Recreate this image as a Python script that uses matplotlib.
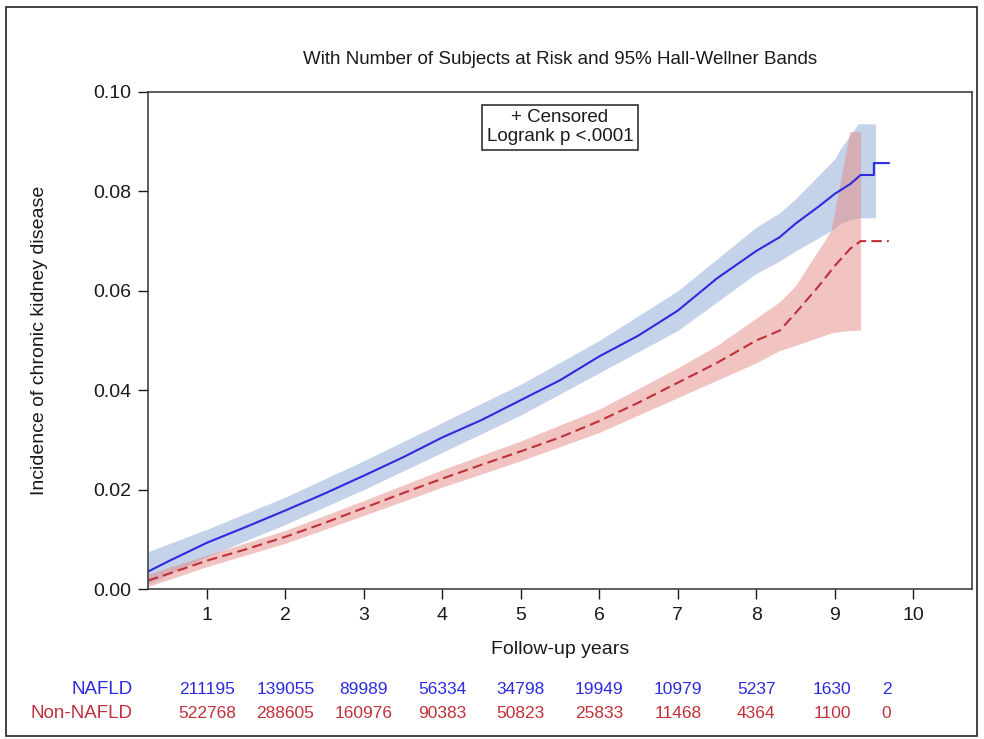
import matplotlib
matplotlib.use("Agg")
import matplotlib.pyplot as plt
from matplotlib.patches import Rectangle
from matplotlib.transforms import blended_transform_factory

plt.rcParams['font.family'] = ['Liberation Sans', 'DejaVu Sans']

# cumulative incidence
t_nafld = [0.25, 0.5, 1.0, 1.5, 2.0, 2.5, 3.0, 3.5, 4.0, 4.5, 5.0, 5.5, 6.0, 6.5, 7.0,
           7.5, 8.0, 8.3, 8.5, 8.8, 9.0, 9.2, 9.33, 9.5, 9.5, 9.69]
y_nafld = [0.0035, 0.0055, 0.0093, 0.0125, 0.0158, 0.0192, 0.0228, 0.0265, 0.0305, 0.0340,
           0.0380, 0.0420, 0.0468, 0.0510, 0.0560, 0.0625, 0.0680, 0.0708, 0.0735, 0.0770,
           0.0795, 0.0815, 0.0833, 0.0833, 0.0857, 0.0857]

t_non = [0.25, 0.5, 1.0, 1.5, 2.0, 2.5, 3.0, 3.5, 4.0, 4.5, 5.0, 5.5, 6.0, 6.5, 7.0,
         7.5, 8.0, 8.3, 8.5, 8.8, 9.0, 9.2, 9.33, 9.69]
y_non = [0.0017, 0.0030, 0.0057, 0.0080, 0.0105, 0.0133, 0.0163, 0.0193, 0.0222, 0.0250,
         0.0277, 0.0305, 0.0338, 0.0375, 0.0415, 0.0455, 0.0500, 0.0520, 0.0555, 0.0610,
         0.0650, 0.0685, 0.0700, 0.0700]

# Hall-Wellner bands
bt_nafld = [0.25, 1.0, 2.0, 3.0, 4.0, 5.0, 6.0, 7.0, 8.0, 8.3, 8.5, 9.0, 9.07, 9.3, 9.52]
blo_nafld = [0.0010, 0.0065, 0.0130, 0.0200, 0.0275, 0.0350, 0.0435, 0.0520, 0.0635, 0.0660,
             0.0680, 0.0725, 0.0736, 0.0747, 0.0747]
bhi_nafld = [0.0075, 0.0120, 0.0185, 0.0258, 0.0335, 0.0412, 0.0500, 0.0600, 0.0728, 0.0757,
             0.0785, 0.0865, 0.0885, 0.0936, 0.0936]

bt_non = [0.25, 1.0, 2.0, 3.0, 4.0, 5.0, 6.0, 7.0, 7.5, 8.0, 8.3, 8.5, 8.95, 9.07, 9.19, 9.33]
blo_non = [0.0005, 0.0045, 0.0092, 0.0148, 0.0205, 0.0258, 0.0315, 0.0385, 0.0420, 0.0455,
           0.0480, 0.0490, 0.0515, 0.0518, 0.0520, 0.0521]
bhi_non = [0.0030, 0.0068, 0.0118, 0.0178, 0.0240, 0.0298, 0.0362, 0.0445, 0.0490, 0.0545,
           0.0578, 0.0610, 0.0720, 0.0817, 0.0920, 0.0920]

# number at risk table (last column sits left of the 10 tick in the original)
risk_x = [1, 2, 3, 4, 5, 6, 7, 8, 8.97, 9.66]
risk_nafld = [211195, 139055, 89989, 56334, 34798, 19949, 10979, 5237, 1630, 2]
risk_non = [522768, 288605, 160976, 90383, 50823, 25833, 11468, 4364, 1100, 0]

blue = '#2b2be0'
red = '#c0303a'
ink = '#1a1a1a'

fig = plt.figure(figsize=(9.84, 7.39), dpi=100)
ax = fig.add_axes([148 / 984, 1 - 589 / 739, (972 - 148) / 984, (589 - 92) / 739])

ax.fill_between(bt_nafld, blo_nafld, bhi_nafld, color='#8ba7d7', alpha=0.5, lw=0)
ax.fill_between(bt_non, blo_non, bhi_non, color='#e58985', alpha=0.5, lw=0)
ax.plot(t_nafld, y_nafld, color=blue, lw=1.5)
ax.plot(t_non, y_non, color=red, lw=1.5, dashes=(5, 2.5))

ax.set_xlim(0.25, 10.75)
ax.set_ylim(0, 0.10)
ax.set_xticks(range(1, 11))
ax.set_yticks([0, 0.02, 0.04, 0.06, 0.08, 0.10])
ax.set_yticklabels(['0.00', '0.02', '0.04', '0.06', '0.08', '0.10'])
ax.tick_params(direction='out', length=7, width=1, labelsize=14, colors=ink)
ax.tick_params(axis='x', pad=6)
ax.tick_params(axis='y', pad=5)
for s in ax.spines.values():
    s.set_linewidth(1.1)
    s.set_color('#333333')

fig.text(560 / 984, 1 - 649 / 739, 'Follow-up years', ha='center', va='center',
         fontsize=14, color=ink)
fig.text(40 / 984, 1 - 340 / 739, 'Incidence of chronic kidney disease', ha='center',
         va='center', rotation=90, fontsize=14, color=ink)
fig.text(560 / 984, 1 - 60 / 739, 'With Number of Subjects at Risk and 95% Hall-Wellner Bands',
         ha='center', va='center', fontsize=13.5, color=ink)

ax.text(0.5, 0.965, '+ Censored\nLogrank p <.0001', transform=ax.transAxes, ha='center',
        va='top', fontsize=13.5, linespacing=1.15, color=ink,
        bbox=dict(boxstyle='square,pad=0.25', fc='white', ec='#333333', lw=1.2))

tr = blended_transform_factory(ax.transData, fig.transFigure)
for x, a, b in zip(risk_x, risk_nafld, risk_non):
    ax.text(x, 1 - 690 / 739, str(a), transform=tr, ha='center', va='center',
            fontsize=12.5, color=blue, clip_on=False)
    ax.text(x, 1 - 714 / 739, str(b), transform=tr, ha='center', va='center',
            fontsize=12.5, color=red, clip_on=False)
fig.text(133 / 984, 1 - 690 / 739, 'NAFLD', ha='right', va='center', fontsize=13.5, color=blue)
fig.text(133 / 984, 1 - 714 / 739, 'Non-NAFLD', ha='right', va='center', fontsize=13.5, color=red)

# outer frame of the picture
fig.patches.append(Rectangle((6 / 984, 3 / 739), (977 - 6) / 984, (732 - 3) / 739,
                             transform=fig.transFigure, fill=False, ec='#222222', lw=1.2))

fig.savefig('out.png', dpi=100)
